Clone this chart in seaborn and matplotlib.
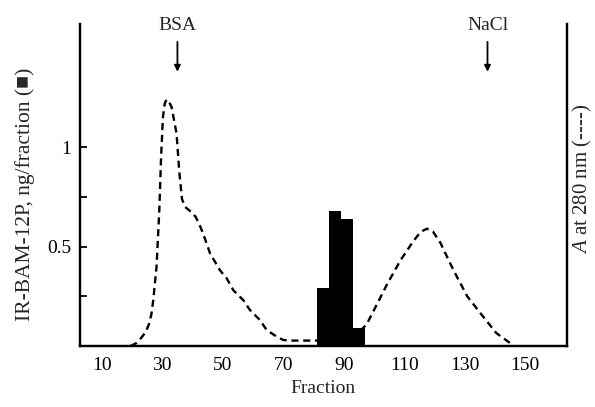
import numpy as np
import pandas as pd
import seaborn as sns
import matplotlib.pyplot as plt

# IR-BAM-12P per fraction (black bars)
bar_edges = [81, 85, 89, 93, 97]
bar_centers = [83, 87, 91, 95]
bar_heights = [0.29, 0.68, 0.64, 0.09]

# absorbance at 280 nm (dashed line)
a280_fraction = [19.5, 21.5, 23.0, 24.5, 25.6, 26.4, 27.0, 28.1, 29.0, 29.6, 30.2, 30.8,
                 31.4, 32.2, 33.1, 34.7, 35.6, 36.5, 37.5, 39.5, 41.0, 42.3, 43.5, 45.8,
                 49.1, 51.3, 53.5, 56.8, 59.0, 62.3, 64.5, 67.8, 70.0, 72.2, 81.0, 86.6,
                 89.9, 92.1, 95.4, 97.6, 99.3, 104.3, 108.7, 113.1, 115.5, 117.5, 119.5,
                 121.9, 126.3, 130.8, 134.9, 140.4, 146.3]
a280_value = [0.0, 0.015, 0.04, 0.07, 0.11, 0.16, 0.23, 0.40, 0.68, 0.95, 1.15, 1.22,
              1.24, 1.23, 1.20, 1.07, 0.88, 0.74, 0.70, 0.675, 0.65, 0.61, 0.565, 0.465,
              0.38, 0.34, 0.28, 0.23, 0.18, 0.13, 0.08, 0.047, 0.03, 0.027, 0.027, 0.03,
              0.04, 0.06, 0.075, 0.11, 0.16, 0.31, 0.43, 0.53, 0.575, 0.59, 0.575,
              0.52, 0.38, 0.25, 0.17, 0.065, 0.0]

x_ticks = [10, 30, 50, 70, 90, 110, 130, 150]
y_ticks = [0.5, 1]
y_ticklabels = ['0.5', '1']
markers = [('BSA', 35), ('NaCl', 137.5)]

sns.set_style('white')
plt.rcParams['font.family'] = ['Liberation Serif', 'DejaVu Serif']
plt.rcParams['mathtext.fontset'] = 'custom'
plt.rcParams['mathtext.it'] = 'Liberation Serif:italic'
plt.rcParams['mathtext.rm'] = 'Liberation Serif'

fig = plt.figure(figsize=(5.95, 4.07), dpi=100)
ax = fig.add_axes([0.134, 0.150, 0.819, 0.791])

bars = pd.DataFrame({'fraction': bar_centers, 'amount': bar_heights})
sns.histplot(data=bars, x='fraction', weights='amount', bins=bar_edges,
             color='black', alpha=1, linewidth=0, ax=ax)

ax2 = ax.twinx()
line = pd.DataFrame({'fraction': a280_fraction, 'A280': a280_value})
sns.lineplot(data=line, x='fraction', y='A280', color='black', lw=1.7,
             linestyle=(0, (3, 2)), ax=ax2)

xlim = (2.7, 163.8)
ylim = (0, 1.62)
for a in (ax, ax2):
    a.set_xlim(*xlim)
    a.set_ylim(*ylim)
    for side in ['left', 'bottom', 'right']:
        a.spines[side].set_visible(True)
        a.spines[side].set_linewidth(1.6)
        a.spines[side].set_color('black')
    a.spines['top'].set_visible(False)

ax.set_xticks(x_ticks)
ax.set_yticks(y_ticks)
ax.set_yticklabels(y_ticklabels)
ax.set_yticks([0.25, 0.75], minor=True)
ax.tick_params(axis='both', which='both', direction='in', length=5, width=1.3,
               labelsize=14, colors='black')
ax.tick_params(axis='x', pad=8)
ax.tick_params(axis='y', pad=6)
ax.tick_params(axis='y', which='minor', left=True)
ax2.set_yticks([])

ax.set_xlabel('Fraction', fontsize=14, labelpad=4)
ax.set_ylabel('IR-BAM-12P, ng/fraction (\u25a0)', fontsize=15.5)
ax.yaxis.set_label_coords(-0.092, 0.47)
ax2.set_ylabel('$A$ at 280 nm (----)', fontsize=15, rotation=90)
ax2.yaxis.set_label_coords(1.008, 0.52)

for name, pos in markers:
    ax.annotate('', xy=(pos, 1.38), xytext=(pos, 1.53),
                arrowprops=dict(arrowstyle='-|>', color='black', lw=1.3,
                                mutation_scale=9, shrinkA=0, shrinkB=0),
                annotation_clip=False)
    ax.text(pos, 1.615, name, ha='center', va='center', fontsize=14)

fig.savefig('out.png', dpi=100)
plt.close()
